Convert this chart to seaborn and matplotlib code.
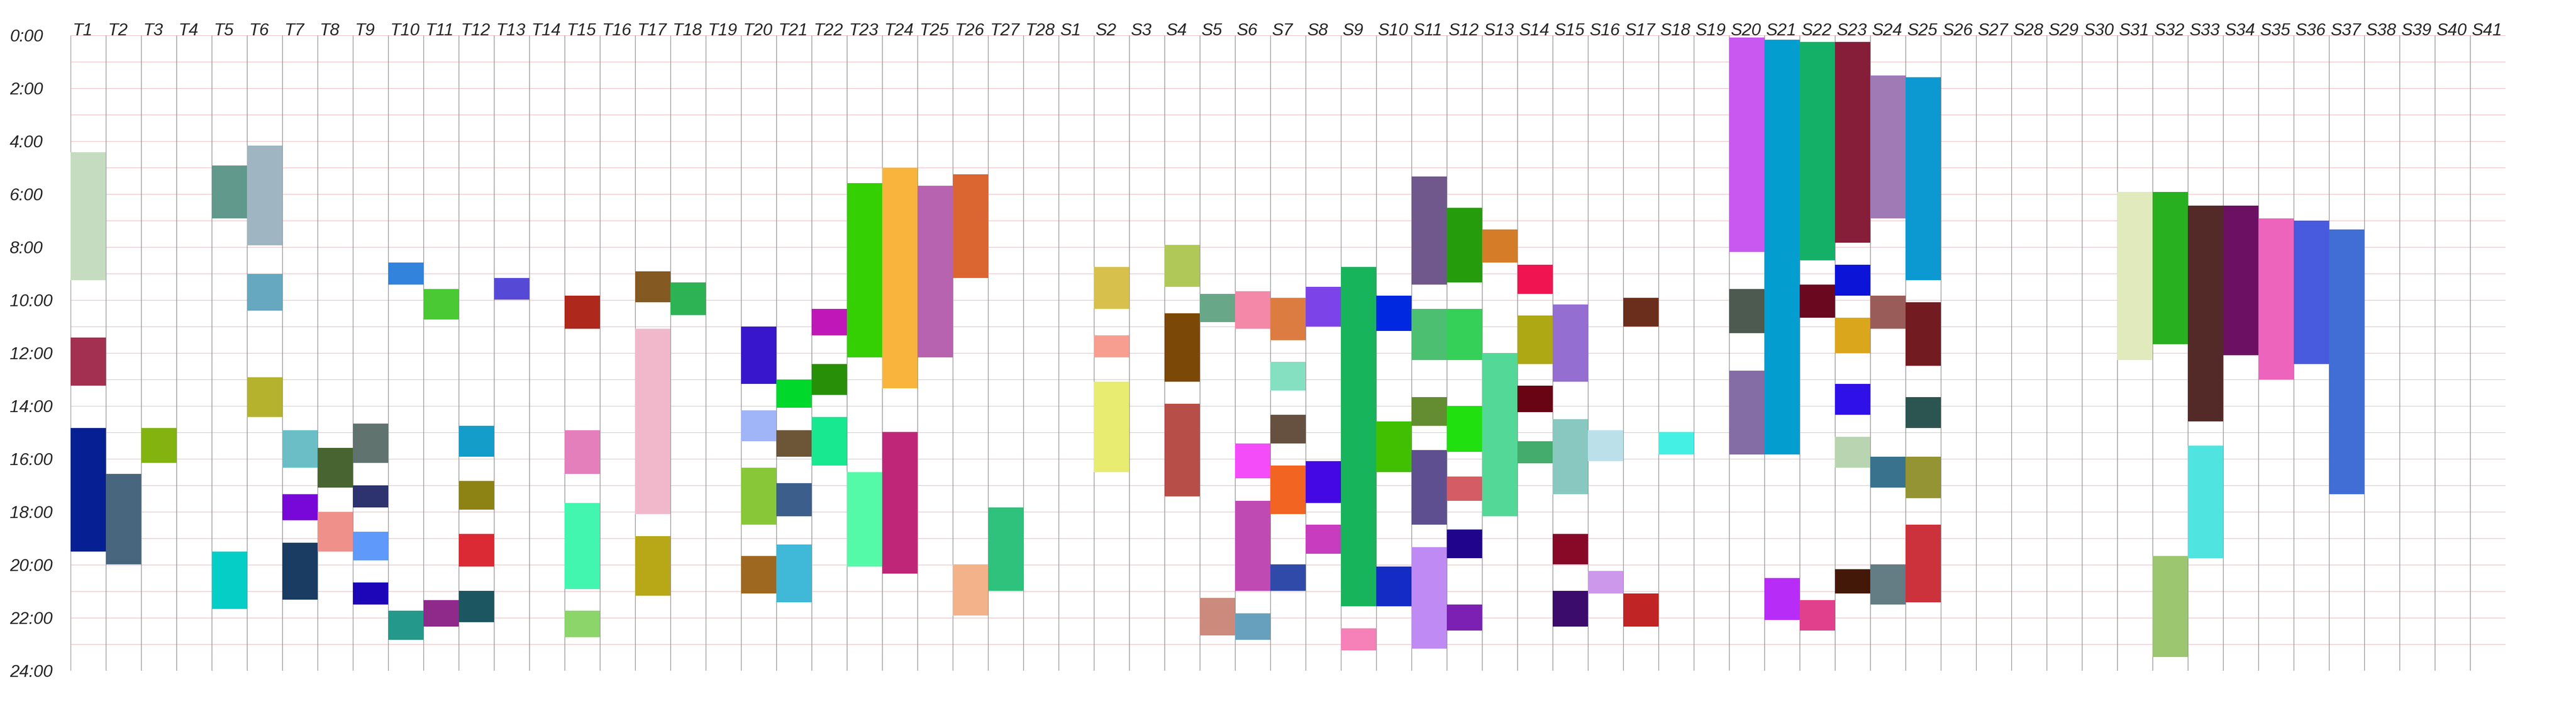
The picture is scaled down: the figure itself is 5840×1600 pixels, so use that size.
import numpy as np
import pandas as pd
import seaborn as sns
from matplotlib import pyplot as plt

# column names along the top
t_cols = ["T%d" % i for i in range(1, 29)]
s_cols = ["S%d" % i for i in range(1, 42)]
column_labels = t_cols + s_cols

hour_ticks = list(range(0, 25, 2))
hour_labels = ["%d:00" % h for h in hour_ticks]

# one entry per coloured block: column, start hour, end hour, colour
bar_column = [
    "T1", "T1", "T1",
    "T2",
    "T3",
    "T5", "T5",
    "T6", "T6", "T6",
    "T7", "T7", "T7",
    "T8", "T8",
    "T9", "T9", "T9", "T9",
    "T10", "T10",
    "T11", "T11",
    "T12", "T12", "T12", "T12",
    "T13",
    "T15", "T15", "T15", "T15",
    "T17", "T17", "T17",
    "T18",
    "T20", "T20", "T20", "T20",
    "T21", "T21", "T21", "T21",
    "T22", "T22", "T22",
    "T23", "T23",
    "T24", "T24",
    "T25",
    "T26", "T26",
    "T27",
    "S2", "S2", "S2",
    "S4", "S4", "S4",
    "S5", "S5",
    "S6", "S6", "S6", "S6",
    "S7", "S7", "S7", "S7", "S7",
    "S8", "S8", "S8",
    "S9", "S9",
    "S10", "S10", "S10",
    "S11", "S11", "S11", "S11", "S11",
    "S12", "S12", "S12", "S12", "S12", "S12",
    "S13", "S13",
    "S14", "S14", "S14", "S14",
    "S15", "S15", "S15", "S15",
    "S16", "S16",
    "S17", "S17",
    "S18",
    "S20", "S20", "S20",
    "S21", "S21",
    "S22", "S22", "S22",
    "S23", "S23", "S23", "S23", "S23", "S23",
    "S24", "S24", "S24", "S24",
    "S25", "S25", "S25", "S25", "S25",
    "S31",
    "S32", "S32",
    "S33", "S33",
    "S34",
    "S35",
    "S36",
    "S37",
]

bar_start = [
    4.42, 11.42, 14.84,
    16.57,
    14.84,
    4.91, 19.50,
    4.16, 9.01, 12.92,
    14.91, 17.34, 19.16,
    15.59, 18.00,
    14.67, 17.00, 18.75, 20.67,
    8.58, 21.74,
    9.59, 21.33,
    14.75, 16.83, 18.83, 20.99,
    9.16,
    9.84, 14.91, 17.66, 21.74,
    8.92, 11.08, 18.92,
    9.33,
    11.00, 14.16, 16.34, 19.67,
    13.00, 14.91, 16.91, 19.24,
    10.33, 12.41, 14.41,
    5.59, 16.50,
    5.00, 14.99,
    5.68,
    5.25, 19.99,
    17.83,
    8.75, 11.34, 13.09,
    7.92, 10.50, 13.92,
    9.76, 21.25,
    9.67, 15.42, 17.58, 21.83,
    9.91, 12.34, 14.33, 16.25, 19.99,
    9.50, 16.08, 18.49,
    8.75, 22.40,
    9.84, 14.58, 20.07,
    5.34, 10.33, 13.67, 15.67, 19.33,
    6.51, 10.33, 14.00, 16.66, 18.66, 21.50,
    7.34, 12.00,
    8.67, 10.59, 13.24, 15.33,
    10.16, 14.50, 18.83, 20.99,
    14.91, 20.24,
    9.91, 21.08,
    14.99,
    0.08, 9.59, 12.66,
    0.17, 20.50,
    0.25, 9.42, 21.33,
    0.25, 8.67, 10.67, 13.17, 15.16, 20.16,
    1.51, 9.84, 15.91, 19.99,
    1.58, 10.08, 13.67, 15.91, 18.49,
    5.92,
    5.92, 19.67,
    6.43, 15.50,
    6.43,
    6.92,
    7.00,
    7.34,
]

bar_end = [
    9.25, 13.24, 19.50,
    19.99,
    16.15,
    6.92, 21.66,
    7.94, 10.40, 14.41,
    16.34, 18.32, 21.32,
    17.08, 19.50,
    16.15, 17.83, 19.84, 21.50,
    9.42, 22.83,
    10.74, 22.34,
    15.91, 17.92, 20.07, 22.17,
    9.99,
    11.08, 16.57, 20.91, 22.74,
    10.08, 18.09, 21.16,
    10.57,
    13.17, 15.33, 18.49, 21.08,
    14.07, 15.91, 18.17, 21.42,
    11.34, 13.58, 16.25,
    12.17, 20.07,
    13.33, 20.33,
    12.17,
    9.16, 21.91,
    20.99,
    10.33, 12.17, 16.50,
    9.50, 13.09, 17.41,
    10.83, 22.66,
    11.08, 16.74, 20.99, 22.83,
    11.51, 13.41, 15.42, 18.09, 20.99,
    11.00, 17.66, 19.58,
    21.57, 23.24,
    11.17, 16.50, 21.57,
    9.42, 12.26, 14.75, 18.49, 23.17,
    9.33, 12.26, 15.74, 17.58, 19.75, 22.49,
    8.58, 18.17,
    9.76, 12.41, 14.24, 16.17,
    13.09, 17.34, 19.99, 22.34,
    16.08, 21.08,
    11.00, 22.34,
    15.83,
    8.18, 11.25, 15.83,
    15.83, 22.08,
    8.50, 10.67, 22.49,
    7.84, 9.84, 12.00, 14.33, 16.33, 21.08,
    6.92, 11.08, 17.08, 21.50,
    9.25, 12.49, 14.84, 17.49, 21.42,
    12.26,
    11.66, 23.49,
    14.58, 19.75,
    12.09,
    13.00,
    12.41,
    17.34,
]

bar_color = [
    "#c5dcc0", "#a33050", "#062093",
    "#48677e",
    "#82b30f",
    "#62998d", "#04cec6",
    "#9fb5c2", "#65a8c0", "#b5b22d",
    "#6bbec6", "#7808d8", "#1b3c62",
    "#486430", "#f0908a",
    "#60736e", "#2c336e", "#5f9afa", "#1d06b8",
    "#3283dc", "#24988a",
    "#4ac935", "#8f2a8b",
    "#149dc8", "#8c8314", "#dc2a34", "#1c5660",
    "#5649d6",
    "#ae281c", "#e47fbc", "#42f6b0", "#8bd56a",
    "#845a22", "#f1b8cc", "#b8a818",
    "#2db354",
    "#3716cc", "#a0b4f8", "#88c838", "#9e6820",
    "#00d82c", "#6d5538", "#3c5e8a", "#40b8d8",
    "#c018b8", "#288f08", "#18e890",
    "#34d004", "#54faa8",
    "#f8b43c", "#c02678",
    "#b863b0",
    "#dc6632", "#f4b28a",
    "#2ec27c",
    "#d8c04c", "#f89e90", "#e8ec70",
    "#b0c858", "#7c4808", "#b84e48",
    "#68a888", "#cc8a7c",
    "#f488a8", "#f44cf8", "#c04ab4", "#66a0bc",
    "#dc7c40", "#84e0c0", "#665040", "#f26422", "#304aaa",
    "#7c44e8", "#4308e4", "#c83cc0",
    "#18b45c", "#f680b8",
    "#0028e0", "#40c000", "#142cc4",
    "#70588c", "#4cc070", "#648c30", "#5e5090", "#c08af4",
    "#249c0c", "#34d058", "#20e010", "#d45c64", "#20048c", "#7c20b4",
    "#d47c28", "#54d898",
    "#f01450", "#aea814", "#680414", "#44ac6c",
    "#946ed0", "#88c8c0", "#880828", "#3c0c6c",
    "#bce0ea", "#cc98ec",
    "#6c2e1c", "#c02424",
    "#44f0e4",
    "#c858f0", "#4c5a50", "#846ca4",
    "#039dd0", "#b82cf8",
    "#14b068", "#6a0820", "#e0408c",
    "#861e3a", "#0c14d8", "#daa61c", "#3010e8", "#b8d4b0", "#441808",
    "#a07ab4", "#9a5c58", "#38728c", "#647c84",
    "#0c98d0", "#721c22", "#2c5450", "#949434", "#cc323c",
    "#e0eabc",
    "#28b020", "#9cc670",
    "#542a28", "#50e4e0",
    "#6c1064",
    "#ec64bc",
    "#485ade",
    "#406ed4",
]


def main():
    sns.set_style("white")
    plt.rcParams['font.family'] = ['Liberation Sans', 'DejaVu Sans']

    bars = pd.DataFrame({"column": bar_column, "start": bar_start,
                         "end": bar_end, "color": bar_color})
    bars["pos"] = bars["column"].map({c: i for i, c in enumerate(column_labels)})

    n_cols = len(column_labels)

    fig = plt.figure(figsize=(58.4, 16), dpi=100)
    ax = fig.add_axes([160 / 5840, 80 / 1600, 5520 / 5840, 1440 / 1600])
    ax.set_xlim(0, n_cols)
    ax.set_ylim(24, 0)
    sns.despine(ax=ax, left=True, bottom=True)
    for s in ax.spines.values():
        s.set_visible(False)

    # hour lines (pink) and column separators (grey)
    ax.hlines(range(24), 0, n_cols, color="#ebb4ba", lw=0.8, zorder=1)
    ax.vlines(range(n_cols), 0, 24, color="#888888", lw=1.0, zorder=2)

    ax.bar(bars["pos"], bars["end"] - bars["start"], bottom=bars["start"],
           width=1, align="edge", color=bars["color"], linewidth=0, zorder=3)

    # column names on top, left aligned in each column
    ax.xaxis.tick_top()
    ax.set_xticks(np.arange(n_cols) + 0.05, labels=column_labels)
    ax.tick_params(axis="x", length=0, pad=0, labelsize=28)
    for t in ax.get_xticklabels():
        t.set_ha("left")
        t.set_va("baseline")
        t.set_fontstyle("italic")

    ax.set_yticks(hour_ticks, labels=hour_labels)
    ax.tick_params(axis="y", length=0, pad=138 * 0.72, labelsize=28)
    for t in ax.get_yticklabels():
        t.set_ha("left")
        t.set_fontstyle("italic")

    ax.grid(False)
    fig.savefig("out.png", dpi=100)


main()
